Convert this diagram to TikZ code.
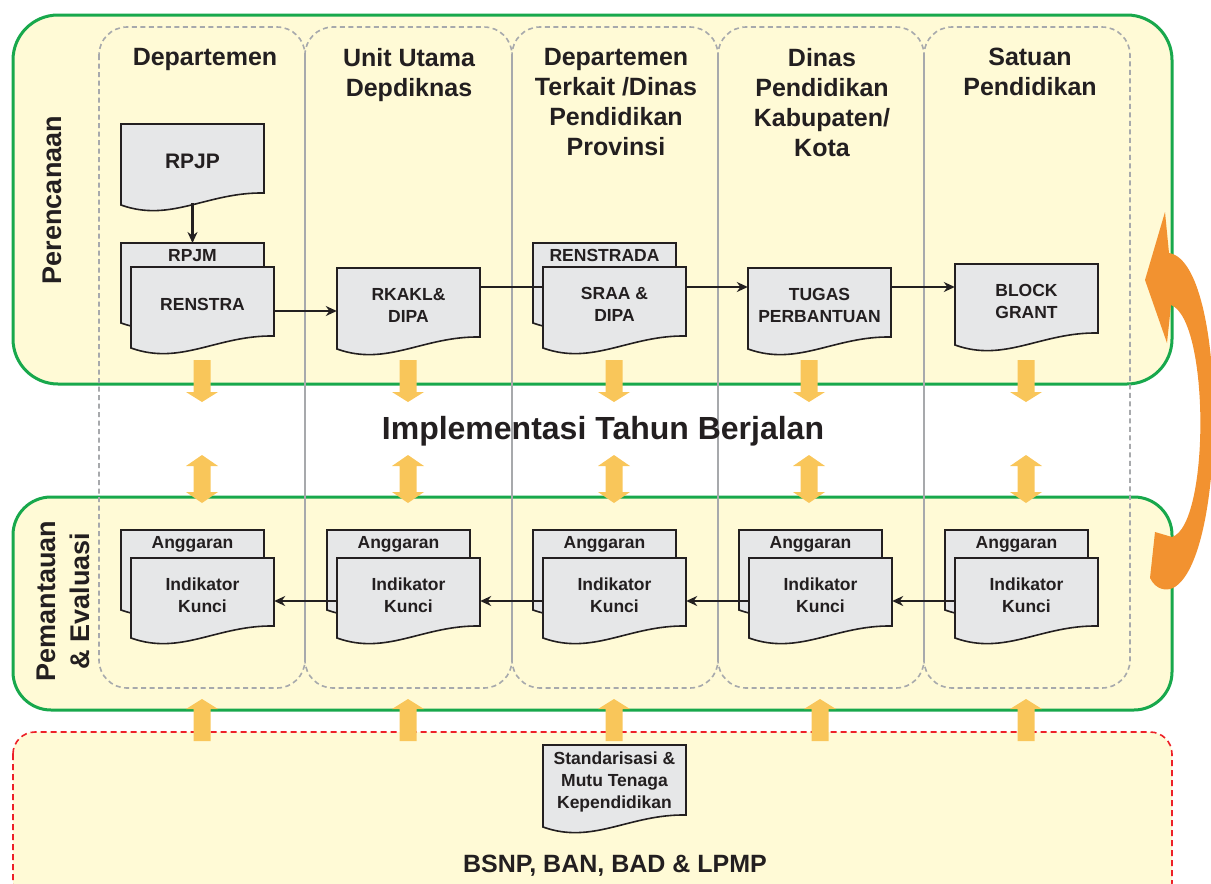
\documentclass[tikz,border=0pt]{standalone}
\usepackage{fontspec}
\setmainfont{Liberation Sans}
\usetikzlibrary{arrows.meta,calc}
\definecolor{ylw}{RGB}{255,250,214}
\definecolor{grn}{RGB}{24,168,76}
\definecolor{gry}{RGB}{167,169,172}
\definecolor{redd}{RGB}{237,32,40}
\definecolor{docf}{RGB}{230,231,232}
\definecolor{ink}{RGB}{35,31,32}
\definecolor{orA}{RGB}{249,198,90}
\definecolor{orB}{RGB}{242,146,48}
\newcommand\docshape[3]{\filldraw[docst] (#1,#2) -- (#1+143,#2) -- (#1+143,#2+#3-12) .. controls (#1+86,#2+#3-13) and (#1+50,#2+#3+18) .. (#1,#2+#3) -- cycle;}
\newcommand\downarr[1]{\fill[orA] (#1-8.5,360) -- (#1+8.5,360) -- (#1+8.5,392) -- (#1+16,392) -- (#1,402) -- (#1-16,392) -- (#1-8.5,392) -- cycle;}
\newcommand\dblarr[1]{\fill[orA] (#1,455) -- (#1+16,466) -- (#1+8.5,466) -- (#1+8.5,492) -- (#1+16,492) -- (#1,503) -- (#1-16,492) -- (#1-8.5,492) -- (#1-8.5,466) -- (#1-16,466) -- cycle;}
\newcommand\uparr[1]{\fill[orA] (#1,699) -- (#1+16,709) -- (#1+8.5,709) -- (#1+8.5,741) -- (#1-8.5,741) -- (#1-8.5,709) -- (#1-16,709) -- cycle;}
\begin{document}
\begin{tikzpicture}[x=1pt,y=-1pt,
  phase/.style={fill=ylw, draw=grn, line width=3pt},
  colbox/.style={draw=gry, line width=1.6pt, dash pattern=on 5pt off 3.5pt, rounded corners=28pt},
  divider/.style={draw=gry, line width=1.6pt},
  docst/.style={fill=docf, draw=ink, line width=1.6pt},
  doctext/.style={font=\bfseries\fontsize{17.5}{22}\selectfont, text=ink, align=center, minimum width=143pt, minimum height=74pt, inner sep=0pt},
  backlabel/.style={font=\bfseries\fontsize{17.5}{22}\selectfont, text=ink, anchor=north, minimum width=143pt, inner xsep=0pt, inner ysep=6pt},
  coltitle/.style={font=\bfseries\fontsize{25}{30}\selectfont, text=ink, align=center, anchor=north, inner sep=0pt},
  sidelabel/.style={font=\bfseries\fontsize{27}{34}\selectfont, text=ink, align=center, rotate=90, inner sep=0pt},
  conn/.style={draw=ink, line width=2.2pt, -{Stealth[length=11pt,width=10pt]}},
  plainconn/.style={draw=ink, line width=2.2pt}]
\useasboundingbox (0,0) rectangle (1211,884);
\clip (0,0) rectangle (1211,884);
% phase areas
\draw[phase, rounded corners=45pt] (13,15) rectangle (1172,384);
\draw[phase, rounded corners=38pt] (13,497) rectangle (1172,710);
\draw[fill=ylw, draw=redd, line width=1.6pt, dash pattern=on 6pt off 4pt, rounded corners=22pt] (13,732) rectangle (1172,905);
% columns
\foreach \xa/\xb in {99/305,305/512,512/718,718/924,924/1130}{
  \draw[colbox] (\xa,27) rectangle (\xb,688);
}
\foreach \xd in {305,512,718,924}{
  \draw[divider] (\xd,54) -- (\xd,662);
}
% orange block arrows
\foreach \xc in {202,408,614,809,1026}{ \downarr{\xc} }
\foreach \xc in {202,408,614,809,1026}{ \dblarr{\xc} }
\foreach \xc in {202,408,614,820,1026}{ \uparr{\xc} }
% big cycle arrow
\fill[orB] (1165,212) -- (1145,280) -- (1167,343) -- (1171,305) .. controls (1210,320) and (1210,525) .. (1172,537) -- (1155,532) -- (1150,578) .. controls (1156,590) and (1166,591) .. (1173,588) .. controls (1228,560) and (1228,262) .. (1169,253) -- cycle;
% column titles
\node[coltitle] (t1) at (205,48) {Departemen};
\node[coltitle] (t2) at (409,48) {Unit Utama\\Depdiknas};
\node[coltitle] (t3) at (616,48) {Departemen\\Terkait /Dinas\\Pendidikan\\Provinsi};
\node[coltitle] (t4) at (822,48) {Dinas\\Pendidikan\\Kabupaten/\\Kota};
\node[coltitle] (t5) at (1030,48) {Satuan\\Pendidikan};
% side labels
\node[sidelabel] (lp) at (52.5,200) {Perencanaan};
\node[sidelabel] (le) at (63.5,601) {Pemantauan\\\& Evaluasi};
% planning documents
\docshape{121}{124}{81}
\node[doctext, font=\bfseries\fontsize{21}{24}\selectfont] (rpjp) at (121+71.5,124+37) {RPJP};
\docshape{121}{243}{80}
\node[backlabel] (rpjm) at (121+71.5,243) {RPJM};
\docshape{131}{267}{81}
\node[doctext] (renstra) at (131+71.5,267+37) {RENSTRA};
\docshape{337}{268}{81}
\node[doctext] (rkakl) at (337+71.5,268+37) {RKAKL\&\\DIPA};
\docshape{533}{243}{80}
\node[backlabel] (renstrada) at (533+71.5,243) {RENSTRADA};
\docshape{543}{267}{81}
\node[doctext] (sraa) at (543+71.5,267+37) {SRAA \&\\DIPA};
\docshape{748}{268}{81}
\node[doctext] (tugas) at (748+71.5,268+37) {TUGAS\\PERBANTUAN};
\docshape{955}{264}{81}
\node[doctext] (block) at (955+71.5,264+37) {BLOCK\\GRANT};
% monitoring documents
\foreach \k in {1,...,5}{
  \pgfmathsetmacro\xb{121+206*(\k-1)}
  \pgfmathsetmacro\xf{131+206*(\k-1)}
  \docshape{\xb}{530}{80}
  \node[backlabel] (ang\k) at (\xb+71.5,530) {Anggaran};
  \docshape{\xf}{558}{80}
  \node[doctext] (ik\k) at (\xf+71.5,558+37) {Indikator\\Kunci};
}
% quality document
\docshape{543}{745}{82}
\node[doctext] (std) at (543+71.5,745+37) {Standarisasi \&\\Mutu Tenaga\\Kependidikan};
% connectors
\draw[conn] ($(rpjp.south)+(0,5)$) -- (rpjm.north);
\draw[conn] ($(renstra.east)+(0,7)$) coordinate (c1) -- (c1 -| rkakl.west);
\draw[plainconn] ($(rkakl.east)+(0,-18)$) coordinate (c2) -- (c2 -| sraa.west);
\draw[conn] ($(sraa.east)+(0,-17)$) coordinate (c3) -- (c3 -| tugas.west);
\draw[conn] ($(tugas.east)+(0,-18)$) coordinate (c4) -- (c4 -| block.west);
\draw[conn] ($(ik2.west)+(0,6)$) coordinate (d1) -- (d1 -| ik1.east);
\draw[conn] ($(ik3.west)+(0,6)$) coordinate (d2) -- (d2 -| ik2.east);
\draw[conn] ($(ik4.west)+(0,6)$) coordinate (d3) -- (d3 -| ik3.east);
\draw[conn] ($(ik5.west)+(0,6)$) coordinate (d4) -- (d4 -| ik4.east);
% texts
\node[font=\bfseries\fontsize{32}{36}\selectfont, text=ink, anchor=base, inner sep=0pt] (impl) at (603,439) {Implementasi Tahun Berjalan};
\node[font=\bfseries\fontsize{25}{30}\selectfont, text=ink, anchor=base, inner sep=0pt] (bsnp) at (615,872) {BSNP, BAN, BAD \& LPMP};
\end{tikzpicture}
\end{document}
